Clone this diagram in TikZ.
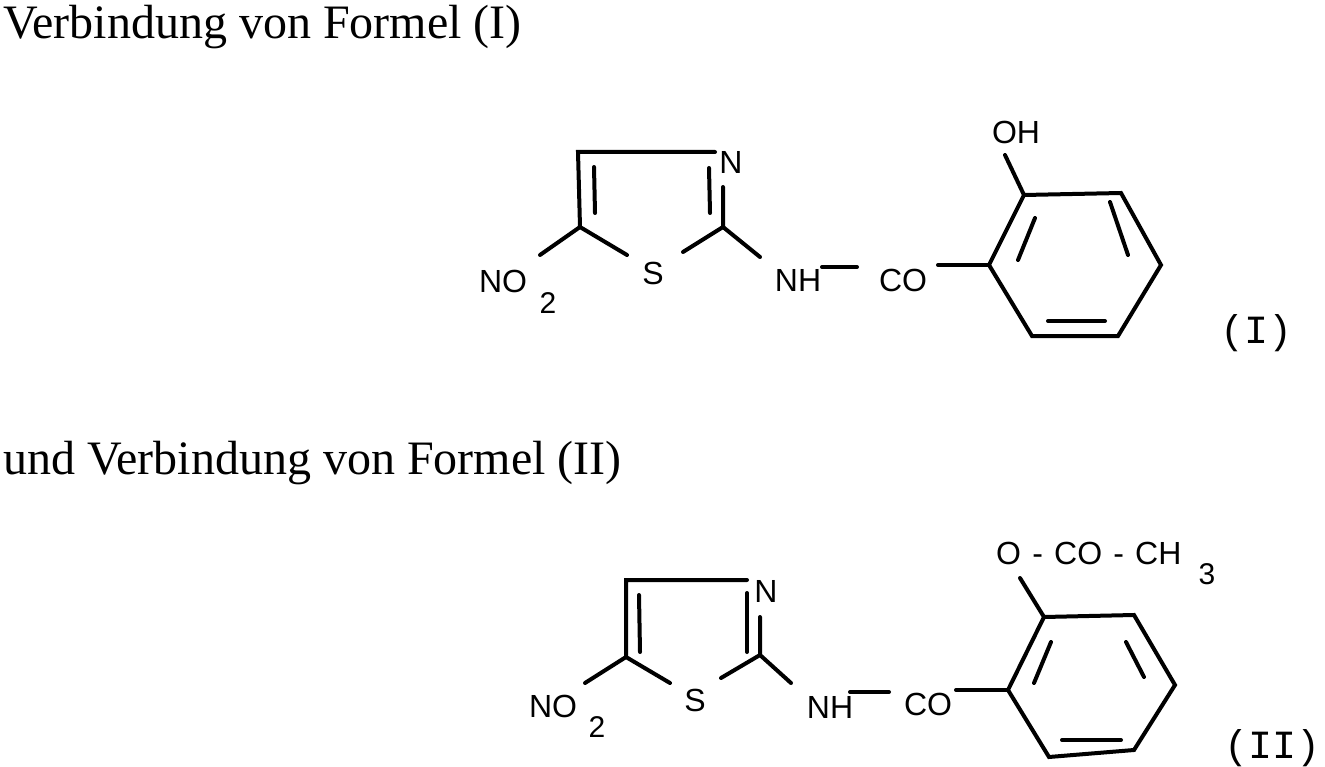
\documentclass[tikz,border=0pt]{standalone}
\usepackage{fontspec}
\setmainfont{Liberation Serif}
\newfontfamily\chem{Liberation Sans}
\newfontfamily\lab{Liberation Mono}
\begin{document}
\begin{tikzpicture}[x=1pt,y=-1pt,
  bond/.style={line width=4pt,line cap=round},
  atom/.style={inner sep=0pt,font=\chem\fontsize{32}{32}\selectfont},
  sub/.style={inner sep=0pt,font=\chem\fontsize{30}{30}\selectfont},
  head/.style={inner sep=0pt,anchor=west,font=\fontsize{48}{48}\selectfont},
  num/.style={inner sep=0pt,font=\lab\fontsize{40}{40}\selectfont}]
\useasboundingbox (0,0) rectangle (1325,767);
\node[head] (h1) at (3,27) {Verbindung von Formel (I)};
\node[head] (h2) at (3,463) {und Verbindung von Formel (II)};
% ---------- Formula I
\coordinate (a4) at (578,152); \coordinate (a5) at (580,227);
\coordinate (aN) at (715,152); \coordinate (aNb) at (723,187);
\coordinate (a2) at (723,227);
\node[atom] (aNl) at (731,162) {N};
\node[atom] (aS) at (653,273) {S};
\node[atom] (aNO) at (503,281) {NO};
\node[sub] (a2s) at (548,303) {2};
\node[atom] (aNH) at (798,280) {NH};
\node[atom] (aCO) at (903,280) {CO};
\node[atom] (aOH) at (1016,132) {OH};
\node[num] (aI) at (1256,333) {(I)};
\coordinate (b1) at (989,265); \coordinate (b2) at (1024,195); \coordinate (b3) at (1121,193);
\coordinate (b4) at (1161,265); \coordinate (b5) at (1118,336); \coordinate (b6) at (1032,336);
\draw[bond] (aN) -- (a4) -- (a5) -- (627,255);
\draw[bond] (594,167) -- (595,213);
\draw[bond] (aNb) -- (a2) -- (683,252);
\draw[bond] (709,168) -- (710,213);
\draw[bond] (a5) -- (540,255);
\draw[bond] (a2) -- (760,257);
\draw[bond] (822,267) -- (857,267);
\draw[bond] (938,265) -- (b1);
\draw[bond] (b1) -- (b2) -- (b3) -- (b4) -- (b5) -- (b6) -- cycle;
\draw[bond] (b2) -- (1005,155);
\draw[bond] (1035,218) -- (1018,260);
\draw[bond] (1110,202) -- (1128,255);
\draw[bond] (1048,321) -- (1105,321);
% ---------- Formula II
\coordinate (c4) at (626,580); \coordinate (c5) at (626,657);
\coordinate (cN) at (747,580); \coordinate (cNb) at (760,617);
\coordinate (c2) at (760,655);
\node[atom] (cNl) at (766,591) {N};
\node[atom] (cS) at (695,700) {S};
\node[atom] (cNO) at (553,706) {NO};
\node[sub] (c2s) at (597,727) {2};
\node[atom] (cNH) at (830,707) {NH};
\node[atom] (cCO) at (928,704) {CO};
\node[atom,anchor=west] (cOAc) at (996,553) {O\hspace{0.35em}-\hspace{0.35em}CO\hspace{0.35em}-\hspace{0.35em}CH};
\node[sub] (c3s) at (1207,574) {3};
\node[num] (cII) at (1272,748) {(II)};
\coordinate (d1) at (1008,690); \coordinate (d2) at (1044,617); \coordinate (d3) at (1134,615);
\coordinate (d4) at (1175,685); \coordinate (d5) at (1134,750); \coordinate (d6) at (1049,757);
\draw[bond] (cN) -- (c4) -- (c5) -- (670,683);
\draw[bond] (639,595) -- (640,652);
\draw[bond] (cNb) -- (c2) -- (721,678);
\draw[bond] (747,593) -- (747,652);
\draw[bond] (c5) -- (585,683);
\draw[bond] (c2) -- (791,683);
\draw[bond] (850,692) -- (889,692);
\draw[bond] (956,690) -- (d1);
\draw[bond] (d1) -- (d2) -- (d3) -- (d4) -- (d5) -- (d6) -- cycle;
\draw[bond] (d2) -- (1020,578);
\draw[bond] (1051,642) -- (1034,683);
\draw[bond] (1126,642) -- (1144,677);
\draw[bond] (1062,740) -- (1121,740);
\end{tikzpicture}
\end{document}
